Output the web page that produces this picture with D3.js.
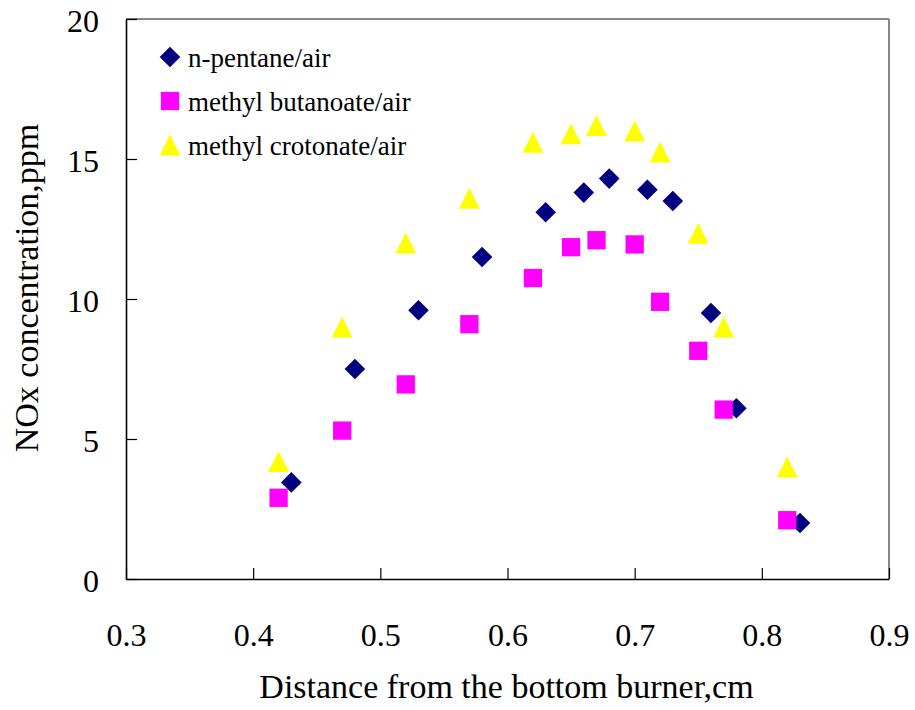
<!DOCTYPE html>
<html><head><meta charset="utf-8">
<script src="https://cdn.jsdelivr.net/npm/d3@7"></script>
<style>body{margin:0;background:#fff} svg{display:block}</style>
</head><body><svg id="c" width="915" height="710"></svg>
<script>
const xTicks = [0.3, 0.4, 0.5, 0.6, 0.7, 0.8, 0.9];
const yTicks = [0, 5, 10, 15, 20];
const seriesNames = ["n-pentane/air", "methyl butanoate/air", "methyl crotonate/air"];
const pentaneX = [0.43, 0.48, 0.53, 0.58, 0.63, 0.66, 0.68, 0.71, 0.73, 0.76, 0.78, 0.83];
const pentaneY = [3.45, 7.5, 9.6, 11.5, 13.1, 13.8, 14.3, 13.9, 13.5, 9.5, 6.1, 2.0];
const butanoateX = [0.42, 0.47, 0.52, 0.57, 0.62, 0.65, 0.67, 0.70, 0.72, 0.75, 0.77, 0.82];
const butanoateY = [2.9, 5.3, 6.95, 9.1, 10.75, 11.85, 12.1, 11.95, 9.9, 8.15, 6.05, 2.1];
const crotonateX = [0.42, 0.47, 0.52, 0.57, 0.62, 0.65, 0.67, 0.70, 0.72, 0.75, 0.77, 0.82];
const crotonateY = [4.2, 9.0, 12.0, 13.6, 15.6, 15.9, 16.2, 16.0, 15.25, 12.35, 9.0, 4.0];

const svg = d3.select("#c");
const L = 126, R = 889, T = 19, B = 579;
const x = d3.scaleLinear().domain([0.3, 0.9]).range([L, R]);
const y = d3.scaleLinear().domain([0, 20]).range([B, T]);
const font = "'Liberation Serif','Times New Roman',serif";

const diamond = {draw(ctx, size){const r=Math.sqrt(size)/2; ctx.moveTo(0,-r); ctx.lineTo(r,0); ctx.lineTo(0,r); ctx.lineTo(-r,0); ctx.closePath();}};
const tri = {draw(ctx, size){const r=Math.sqrt(size)/2; ctx.moveTo(0,-r); ctx.lineTo(r,r); ctx.lineTo(-r,r); ctx.closePath();}};

const series = [
  {name: seriesNames[0], xs: pentaneX, ys: pentaneY, color: "#000080", sym: d3.symbol().type(diamond).size(20.6*20.6)},
  {name: seriesNames[1], xs: butanoateX, ys: butanoateY, color: "#FF00FF", sym: d3.symbol().type(d3.symbolSquare).size(18.3*18.3)},
  {name: seriesNames[2], xs: crotonateX, ys: crotonateY, color: "#FFFF00", sym: d3.symbol().type(tri).size(21*21)}
];

// plot frame (gray top/right)
svg.append("line").attr("x1", L).attr("x2", R).attr("y1", T).attr("y2", T).attr("stroke", "#878787").attr("stroke-width", 2);
svg.append("line").attr("x1", R).attr("x2", R).attr("y1", T).attr("y2", B).attr("stroke", "#878787").attr("stroke-width", 2);

// axes
const gx = svg.append("g").attr("transform", `translate(0,${B})`)
  .call(d3.axisBottom(x).tickValues(xTicks).tickFormat(d3.format(".1f")).tickSizeInner(-11).tickSizeOuter(0).tickPadding(44));
const gy = svg.append("g").attr("transform", `translate(${L},0)`)
  .call(d3.axisLeft(y).tickValues(yTicks).tickFormat(d3.format("d")).tickSizeInner(-11).tickSizeOuter(0).tickPadding(27));
[gx, gy].forEach(g => {
  g.select(".domain").attr("stroke", "#000").attr("stroke-width", 1.6);
  g.selectAll(".tick line").attr("stroke", "#000").attr("stroke-width", 1.2);
  g.selectAll(".tick text").attr("font-family", font).attr("font-size", 32).attr("fill", "#000");
});
gy.selectAll(".tick text").attr("dy", "0.4em");

// points
series.forEach(s => {
  svg.append("g").selectAll("path").data(s.xs.map((v, i) => [v, s.ys[i]])).join("path")
    .attr("d", s.sym)
    .attr("transform", d => `translate(${x(d[0])},${y(d[1])})`)
    .attr("fill", s.color);
});

// legend
const lg = svg.append("g");
series.forEach((s, i) => {
  const cy = 57 + i * 44;
  lg.append("path").attr("d", s.sym).attr("transform", `translate(170,${cy})`).attr("fill", s.color);
  lg.append("text").attr("x", 188).attr("y", cy + 10).attr("font-family", font).attr("font-size", 27).attr("fill", "#000").text(s.name);
});

// titles
svg.append("text").attr("x", (L + R) / 2 - 1).attr("y", 698).attr("text-anchor", "middle")
  .attr("font-family", font).attr("font-size", 34).attr("fill", "#000").text("Distance from the bottom burner,cm");
svg.append("text").attr("transform", "translate(38,288) rotate(-90)").attr("text-anchor", "middle")
  .attr("font-family", font).attr("font-size", 34).attr("fill", "#000").text("NOx concentration,ppm");
</script>
</body></html>
